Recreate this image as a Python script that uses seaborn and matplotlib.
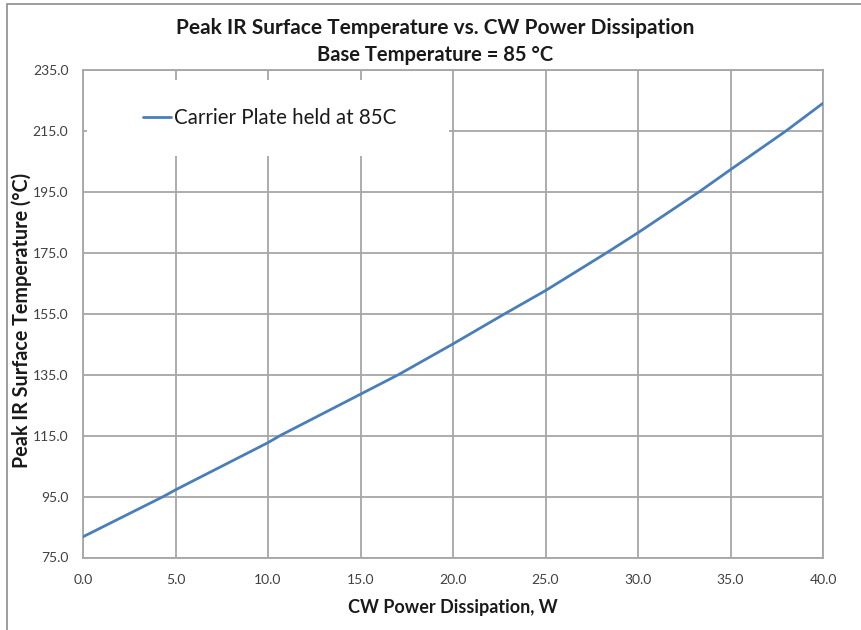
import matplotlib
matplotlib.use("Agg")
import matplotlib.pyplot as plt
import matplotlib.patches as mpatches
import seaborn as sns
import pandas as pd

# Data
power_w = [0.0, 4.34, 5.0, 10.0, 10.65, 15.0, 17.05, 20.0, 22.8, 25.0, 28.3, 30.0, 33.3, 35.0, 38.0, 40.0]
peak_temp_c = [81.8, 95.0, 97.2, 112.7, 115.0, 128.6, 135.0, 145.1, 155.0, 162.6, 175.0, 181.6, 195.0, 202.3, 215.0, 224.1]
series_name = "Carrier Plate held at 85C"
x_ticks = [0.0, 5.0, 10.0, 15.0, 20.0, 25.0, 30.0, 35.0, 40.0]
y_ticks = [75.0, 95.0, 115.0, 135.0, 155.0, 175.0, 195.0, 215.0, 235.0]

df = pd.DataFrame({"power": power_w, "temp": peak_temp_c, "series": series_name})

sns.set_theme(style="whitegrid")
plt.rcParams["font.family"] = ["Lato", "DejaVu Sans"]

W, H = 861, 630
fig = plt.figure(figsize=(W / 100, H / 100), dpi=100)
ax = fig.add_axes([83 / W, 1 - 557.5 / H, (823 - 83) / W, (557.5 - 70) / H])

grid_c = "#a6a6a6"
line_c = "#4a7ebb"

sns.lineplot(data=df, x="power", y="temp", hue="series", palette=[line_c],
             linewidth=2.0, ax=ax, zorder=3, legend=False)

ax.set_xlim(0, 40)
ax.set_ylim(75, 235)
ax.set_xticks(x_ticks)
ax.set_yticks(y_ticks)
ax.set_xticklabels([f"{v:.1f}" for v in x_ticks])
ax.set_yticklabels([f"{v:.1f}" for v in y_ticks])
ax.tick_params(axis="both", length=0, labelsize=10, colors="#404040")
ax.tick_params(axis="x", pad=12)
ax.tick_params(axis="y", pad=10.5)
ax.grid(True, color=grid_c, linewidth=1.3)
ax.set_axisbelow(True)
ax.set_facecolor("white")
for s in ax.spines.values():
    s.set_visible(True)
    s.set_color(grid_c)
    s.set_linewidth(1.3)
ax.set_xlabel("")
ax.set_ylabel("")

# Legend with white background covering the gridlines
bg = mpatches.Rectangle((4 / 740, (557.5 - 156) / 487.5), (449 - 87) / 740, 76 / 487.5,
                        transform=ax.transAxes, facecolor="white", edgecolor="none", zorder=2)
ax.add_patch(bg)
handle = plt.Line2D([], [], color=line_c, linewidth=2.0)
ax.legend([handle], [series_name], loc="center left",
          bbox_to_anchor=((143 - 83) / 740, (557.5 - 118) / 487.5),
          frameon=False, fontsize=14.8, handlelength=1.35, handletextpad=0.15,
          borderpad=0, borderaxespad=0, labelcolor="#1a1a1a")

# Titles
fig.text(435 / W, 1 - 28 / H, "Peak IR Surface Temperature vs. CW Power Dissipation",
         ha="center", va="center", fontsize=15, fontweight="bold", color="#1a1a1a")
fig.text(435 / W, 1 - 55 / H, "Base Temperature = 85 °C",
         ha="center", va="center", fontsize=14.5, fontweight="bold", color="#1a1a1a")

# Axis titles
fig.text(453 / W, 1 - 607 / H, "CW Power Dissipation, W",
         ha="center", va="center", fontsize=13, fontweight="bold", color="#1a1a1a")
fig.text(22 / W, 1 - 320 / H, "Peak IR Surface Temperature (°C)", rotation=90,
         ha="center", va="center", fontsize=14.2, fontweight="bold", color="#1a1a1a")

# Outer chart border (cropped on right/bottom)
border = mpatches.Rectangle((7 / W, -0.05), 1.2, 1.05 - 3.5 / H, transform=fig.transFigure,
                            facecolor="none", edgecolor="#8c8c8c", linewidth=1.2)
fig.patches.append(border)

fig.savefig("out.png", dpi=100, facecolor="white")
